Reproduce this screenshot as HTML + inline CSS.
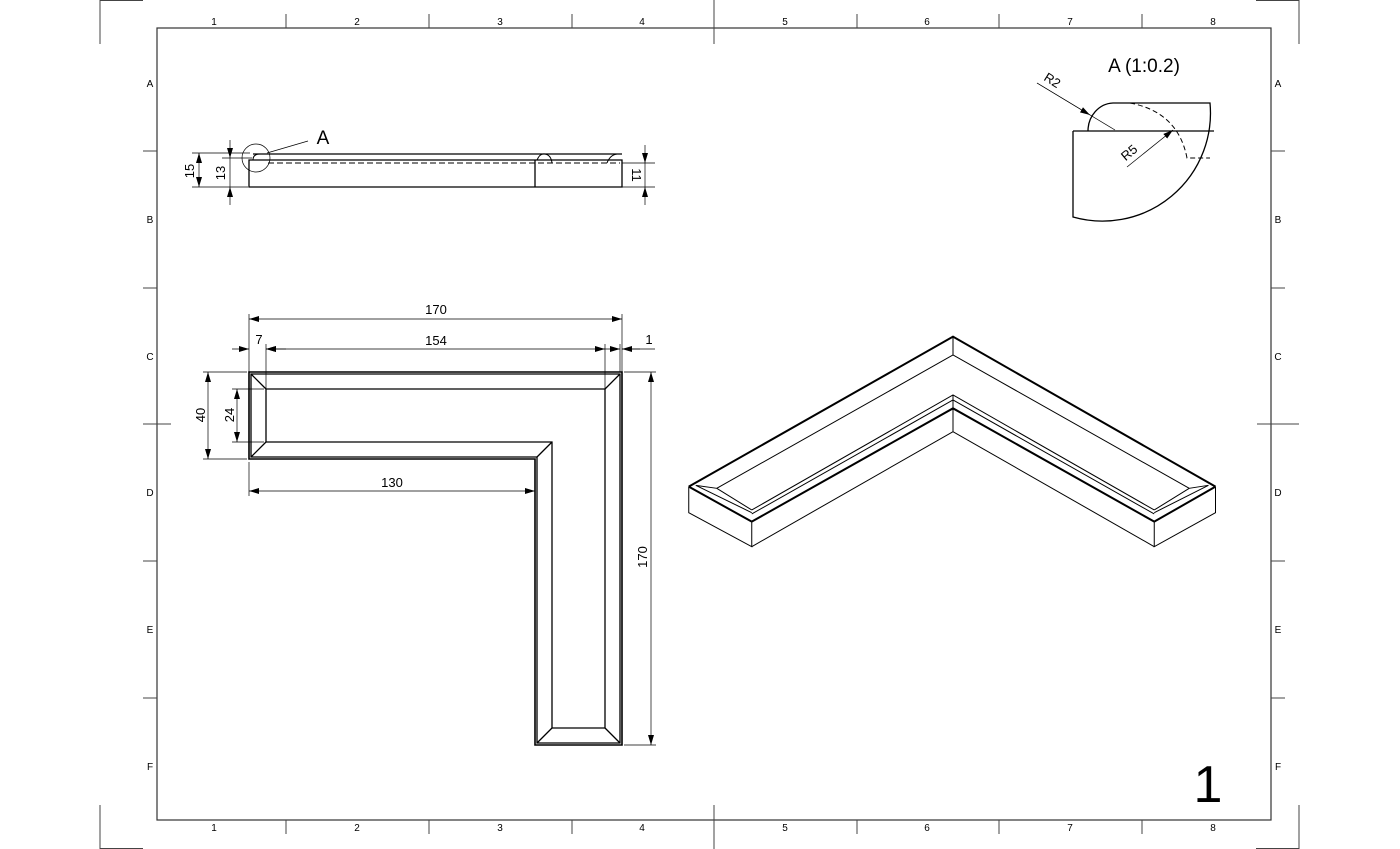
<!DOCTYPE html>
<html><head><meta charset="utf-8"><style>
html,body{margin:0;padding:0;background:#fff;}
svg{display:block;font-family:"Liberation Sans",sans-serif;}
</style></head><body>
<svg width="1400" height="849" viewBox="0 0 1400 849" xmlns="http://www.w3.org/2000/svg">
<defs>
<marker id="ar" viewBox="0 0 10 6" refX="10" refY="3" markerWidth="10" markerHeight="6" orient="auto-start-reverse" markerUnits="userSpaceOnUse"><path d="M0,0 L10,3 L0,6 z" fill="#000"/></marker>
</defs>
<g stroke="#444" stroke-width="1" fill="none">
<path d="M100,44 V0.5 H143 M1299,44 V0.5 H1256 M100,805 V848.5 H143 M1299,805 V848.5 H1256"/>
<rect x="157" y="28" width="1114" height="792" stroke="#333" stroke-width="1.2"/>
<path d="M286,14V28 M429,14V28 M572,14V28 M714,0V44 M857,14V28 M999,14V28 M1142,14V28"/>
<path d="M286,820V834 M429,820V834 M572,820V834 M714,805V849 M857,820V834 M999,820V834 M1142,820V834"/>
<path d="M143,151H157 M143,288H157 M143,424H171 M143,561H157 M143,698H157"/>
<path d="M1271,151H1285 M1271,288H1285 M1257,424H1299 M1271,561H1285 M1271,698H1285"/>
</g>
<g font-size="10" text-anchor="middle" fill="#000">
<text x="214" y="25">1</text><text x="357" y="25">2</text><text x="500" y="25">3</text><text x="642" y="25">4</text><text x="785" y="25">5</text><text x="927" y="25">6</text><text x="1070" y="25">7</text><text x="1213" y="25">8</text>
<text x="214" y="831">1</text><text x="357" y="831">2</text><text x="500" y="831">3</text><text x="642" y="831">4</text><text x="785" y="831">5</text><text x="927" y="831">6</text><text x="1070" y="831">7</text><text x="1213" y="831">8</text>
<text x="150" y="87">A</text><text x="150" y="223">B</text><text x="150" y="360">C</text><text x="150" y="496">D</text><text x="150" y="633">E</text><text x="150" y="770">F</text>
<text x="1278" y="87">A</text><text x="1278" y="223">B</text><text x="1278" y="360">C</text><text x="1278" y="496">D</text><text x="1278" y="633">E</text><text x="1278" y="770">F</text>
</g>
<text x="1208" y="802" font-size="52" text-anchor="middle">1</text>

<!-- Side view -->
<g stroke="#000" fill="none" stroke-width="1.3">
<path d="M249,160 V187 H622 V160 Z"/>
<path d="M253,154 H622"/>
<path d="M535,160 V187"/>
<path d="M268,163 H620" stroke-dasharray="6,3" stroke-width="1"/>
<path d="M253,160 Q253,154 260,154 M537,160 Q540,153 545,154 Q551,155 552,163 M607,163 Q610,155 617,154" stroke-width="1"/>
</g>
<g stroke="#000" fill="none" stroke-width="0.7">
<circle cx="256" cy="158" r="14"/>
<path d="M267,153 L308,141"/>
<path d="M192,153 H250 M222,158 H252 M192,187 H248 M622,163 H655 M622,187 H655"/>
<path d="M199,153 V187" marker-start="url(#ar)" marker-end="url(#ar)"/>
<path d="M230,140 V158" marker-end="url(#ar)"/><path d="M230,205 V187" marker-end="url(#ar)"/><path d="M230,158 V187"/>
<path d="M645,145 V163" marker-end="url(#ar)"/><path d="M645,205 V187" marker-end="url(#ar)"/><path d="M645,163 V187"/>
</g>
<text x="323" y="144" font-size="19" text-anchor="middle">A</text>
<text transform="translate(194,171) rotate(-90)" font-size="13" text-anchor="middle">15</text>
<text transform="translate(225,173) rotate(-90)" font-size="13" text-anchor="middle">13</text>
<text transform="translate(632,175) rotate(90)" font-size="13" text-anchor="middle">11</text>

<!-- Detail A -->
<text x="1144" y="72" font-size="19" text-anchor="middle">A (1:0.2)</text>
<g stroke="#000" fill="none" stroke-width="1.3">
<path d="M1073,131 H1214 M1073,131 V217 A108,108 0 0 0 1210,103 H1113 A26,28 0 0 0 1088,131"/>
<path d="M1130,103 Q1178,112 1187,158 H1210" stroke-dasharray="5,3" stroke-width="1"/>
</g>
<g stroke="#000" stroke-width="0.7" fill="none">
<path d="M1037,83 L1115,130"/><path d="M1037,83 L1090,115" marker-end="url(#ar)"/>
<path d="M1127,167 L1173,130" marker-end="url(#ar)"/>
</g>
<text transform="translate(1050,84) rotate(32)" font-size="13" text-anchor="middle">R2</text>
<text transform="translate(1132,156) rotate(-40)" font-size="13" text-anchor="middle">R5</text>

<!-- Plan view -->
<g stroke="#000" fill="none" stroke-width="1.3">
<path d="M249,372 H622 V745 H535 V459 H249 Z" stroke-width="1.6"/>
<path d="M251,374 H620 V743 H537 V457 H251 Z"/>
<path d="M266,389 H605 V728 H552 V442 H266 Z"/>
<path d="M251,374 L266,389 M620,374 L605,389 M620,743 L605,728 M537,743 L552,728 M537,457 L552,442 M251,457 L266,442"/>
</g>
<g stroke="#000" stroke-width="0.7" fill="none">
<path d="M249,314 V372 M622,314 V372 M266,344 V389 M605,344 V389 M620,344 V372"/>
<path d="M249,319 H622" marker-start="url(#ar)" marker-end="url(#ar)"/>
<path d="M266,349 H605" marker-start="url(#ar)" marker-end="url(#ar)"/>
<path d="M232,349 H249" marker-end="url(#ar)"/><path d="M286,349 H266" marker-end="url(#ar)"/>
<path d="M600,349 H620" marker-end="url(#ar)"/><path d="M640,349 H622" marker-end="url(#ar)"/><path d="M622,349 H655"/>
<path d="M203,372 H247 M232,389 H264 M232,442 H264 M203,459 H247"/>
<path d="M208,372 V459" marker-start="url(#ar)" marker-end="url(#ar)"/>
<path d="M237,389 V442" marker-start="url(#ar)" marker-end="url(#ar)"/>
<path d="M249,462 V496 M535,462 V496"/>
<path d="M249,491 H535" marker-start="url(#ar)" marker-end="url(#ar)"/>
<path d="M624,372 H656 M624,745 H656"/>
<path d="M651,372 V745" marker-start="url(#ar)" marker-end="url(#ar)"/>
</g>
<g font-size="13" text-anchor="middle">
<text x="436" y="314">170</text>
<text x="436" y="345">154</text>
<text x="259" y="344">7</text>
<text x="649" y="344">1</text>
<text x="392" y="487">130</text>
<text transform="translate(205,415) rotate(-90)">40</text>
<text transform="translate(234,415) rotate(-90)">24</text>
<text transform="translate(647,557) rotate(-90)">170</text>
</g>

<!-- Isometric -->
<g transform="translate(680,330) scale(0.35,0.3333)" fill="none" stroke="#000">
<g stroke-width="1" vector-effect="non-scaling-stroke">
<path vector-effect="non-scaling-stroke" d="M105,475 L780,75 L1455,475"/>
<path vector-effect="non-scaling-stroke" d="M780,20 V75 M780,195 V305"/>
<path vector-effect="non-scaling-stroke" d="M45,466 L105,475 M45,466 L205,548 M105,475 L205,540 M1510,466 L1455,475 M1510,466 L1355,548 M1455,475 L1355,540"/>
<path vector-effect="non-scaling-stroke" d="M205,540 L780,195 L1355,540"/>
<path vector-effect="non-scaling-stroke" d="M205,552 L780,210 L1355,552"/>
<path vector-effect="non-scaling-stroke" d="M205,650 L780,305 L1355,650"/>
<path vector-effect="non-scaling-stroke" d="M25,470 V548 L205,650 V575 M1530,470 V548 L1355,650 V575"/>
</g>
<path vector-effect="non-scaling-stroke" stroke-width="2" d="M25,470 L780,20 L1530,470"/>
<path vector-effect="non-scaling-stroke" stroke-width="2" d="M205,575 L780,235 L1355,575"/>
<path vector-effect="non-scaling-stroke" stroke-width="2" d="M25,470 L205,575 M1530,470 L1355,575"/>
</g>
</svg>
</body></html>
